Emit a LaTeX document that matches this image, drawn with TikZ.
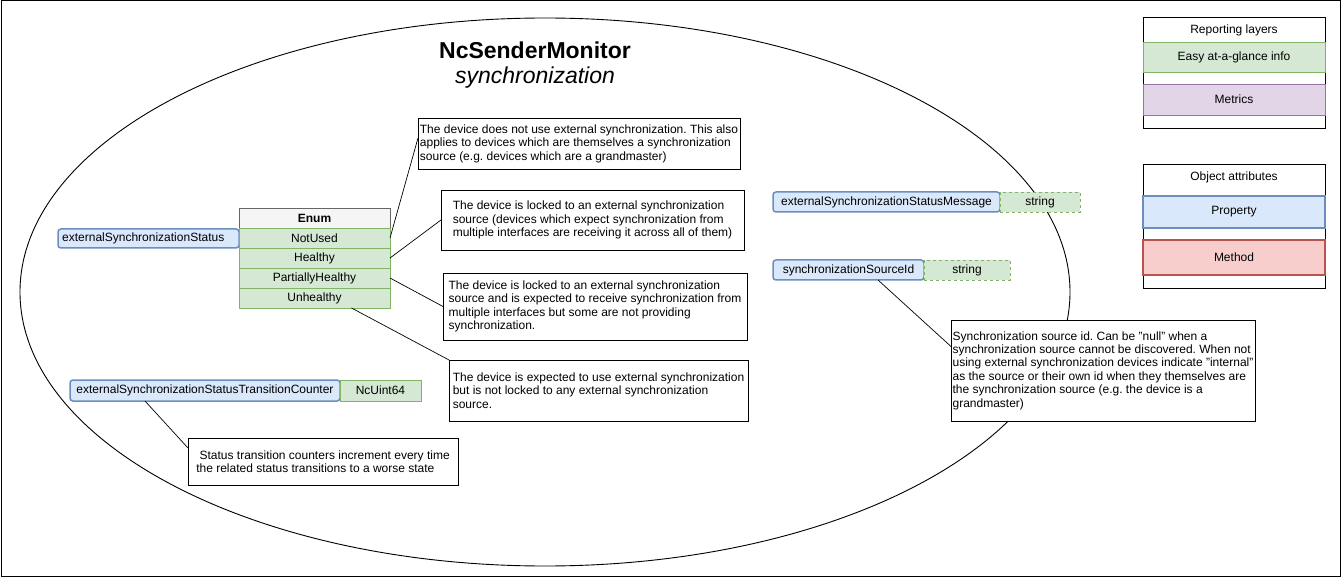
\documentclass[tikz,border=0pt]{standalone}
\usepackage{fontspec}
\setmainfont{Liberation Sans}
\usetikzlibrary{shapes.geometric}
\frenchspacing
\definecolor{propF}{HTML}{DAE8FC}
\definecolor{propS}{HTML}{6C8EBF}
\definecolor{greenF}{HTML}{D5E8D4}
\definecolor{greenS}{HTML}{82B366}
\definecolor{purpF}{HTML}{E1D5E7}
\definecolor{purpS}{HTML}{9673A6}
\definecolor{redF}{HTML}{F8CECC}
\definecolor{redS}{HTML}{B85450}
\definecolor{hdrF}{HTML}{F5F5F5}
\definecolor{hdrS}{HTML}{666666}
\newcommand\fs{\fontsize{12}{13.4}\selectfont\frenchspacing}
\tikzset{
  box/.style={inner sep=0pt, outer sep=0pt, anchor=north west, font=\fs},
  prop/.style={box, draw=propS, fill=propF, line width=1.5pt, rounded corners=3pt},
  typebox/.style={box, draw=greenS, fill=greenF, line width=0.8pt},
  typedash/.style={box, draw=greenS, fill=greenF, line width=0.8pt, dash pattern=on 3pt off 3pt},
  enumhdr/.style={box, draw=hdrS, fill=hdrF, line width=0.8pt, font=\fs\bfseries},
  enumrow/.style={box, draw=greenS, fill=greenF, line width=0.8pt},
  note/.style={box, draw=black, fill=white, line width=0.8pt, align=left, execute at begin node={\rule{0pt}{13pt}}},
  link/.style={draw=black, line width=0.7pt},
  legbox/.style={box, draw=black, fill=white, line width=0.8pt},
}
\begin{document}
\begin{tikzpicture}[x=1pt,y=-1pt]
\useasboundingbox (0,0) rectangle (1341,577);
\node[draw=black, line width=1pt, inner sep=0pt, outer sep=0pt, minimum width=1339pt, minimum height=575pt, anchor=north west] (frame) at (1,1) {};
% ellipse
\node[draw=black, line width=0.9pt, ellipse, inner sep=0pt, minimum width=1050pt, minimum height=548pt] (monitor) at (545,292) {};
% title
\node[font=\fontsize{23}{27}\selectfont\bfseries] (title) at (535,50) {NcSenderMonitor};
\node[font=\fontsize{23}{27}\selectfont\itshape] (subtitle) at (535,78) {synchronization};

% externalSynchronizationStatus
\node[prop, minimum width=181pt, minimum height=19pt] (ess) at (58,229) {};
\node[font=\fs, anchor=west, inner sep=0pt] (esslbl) at (62,238.5) {externalSynchronizationStatus};
\node[enumhdr, minimum width=151pt, minimum height=20pt] (ehdr) at (239,208) {Enum};
\node[enumrow, minimum width=151pt, minimum height=20pt] (rNotUsed) at (239,228) {NotUsed};
\node[enumrow, minimum width=151pt, minimum height=20pt] (rHealthy) at (239,248) {Healthy};
\node[enumrow, minimum width=151pt, minimum height=20pt] (rPartial) at (239,268) {PartiallyHealthy};
\node[enumrow, minimum width=151pt, minimum height=20pt] (rUnhealthy) at (239,288) {Unhealthy};

% counter
\node[prop, minimum width=270pt, minimum height=21pt] (cnt) at (70,380) {externalSynchronizationStatusTransitionCounter};
\node[typebox, minimum width=81pt, minimum height=21pt] (cnttype) at (340,380) {NcUint64};

% right side properties
\node[prop, minimum width=227pt, minimum height=20pt] (msg) at (773,192) {externalSynchronizationStatusMessage};
\node[typedash, minimum width=80pt, minimum height=20pt] (msgtype) at (1000,192) {string};
\node[prop, minimum width=151pt, minimum height=20pt] (sid) at (773,260) {synchronizationSourceId};
\node[typedash, minimum width=86pt, minimum height=20pt] (sidtype) at (924,260) {string};

% notes
\node[note, minimum width=322pt, minimum height=51pt] (n1) at (418,118) {The device does not use external synchronization. This also\\applies to devices which are themselves a synchronization\\source (e.g. devices which are a grandmaster)};
\node[note, minimum width=303pt, minimum height=60pt] (n2) at (441,190) {The device is locked to an external synchronization\\source (devices which expect synchronization from\\multiple interfaces are receiving it across all of them)};
\node[note, minimum width=304pt, minimum height=67pt] (n3) at (443,273) {The device is locked to an external synchronization\\source and is expected to receive synchronization from\\multiple interfaces but some are not providing\\synchronization.};
\node[note, minimum width=299pt, minimum height=61pt] (n4) at (449,360) {The device is expected to use external synchronization\\but is not locked to any external synchronization\\source.};
\node[note, minimum width=270pt, minimum height=47pt] (n5) at (188,438) {\ Status transition counters increment every time\\the related status transitions to a worse state};
\node[note, minimum width=304pt, minimum height=101pt] (n6) at (951,320) {Synchronization source id. Can be "null" when a\\synchronization source cannot be discovered. When not\\using external synchronization devices indicate "internal"\\as the source or their own id when they themselves are\\the synchronization source (e.g. the device is a\\grandmaster)};

% connectors
\draw[link] (rNotUsed.east) -- ([yshift=5.5pt]n1.west);
\draw[link] (rHealthy.east) -- (n2.west);
\draw[link] (rPartial.east) -- (n3.west);
\draw[link] ([xshift=37pt]rUnhealthy.south) -- (n4.north west);
\draw[link] ([xshift=-60pt]cnt.south) -- ([yshift=13.5pt]n5.west);
\draw[link] ([xshift=29.5pt]sid.south) -- ([yshift=24pt]n6.west);

% legend 1
\node[legbox, minimum width=182pt, minimum height=111pt] (leg1) at (1143,17) {};
\node[font=\fs] (leg1t) at (1234,30) {Reporting layers};
\node[enumrow, minimum width=182pt, minimum height=30pt] (legEasy) at (1143,42) {Easy at-a-glance info};
\node[box, draw=purpS, fill=purpF, line width=0.8pt, minimum width=182pt, minimum height=31pt] (legMetrics) at (1143,84) {Metrics};
% legend 2
\node[legbox, minimum width=182pt, minimum height=124pt] (leg2) at (1143,164) {};
\node[font=\fs] (leg2t) at (1234,177.5) {Object attributes};
\node[box, draw=propS, fill=propF, line width=1.5pt, minimum width=182pt, minimum height=32pt] (legProp) at (1143,196) {Property};
\node[box, draw=redS, fill=redF, line width=1.5pt, minimum width=182pt, minimum height=35pt] (legMethod) at (1143,240) {Method};
\end{tikzpicture}
\end{document}
